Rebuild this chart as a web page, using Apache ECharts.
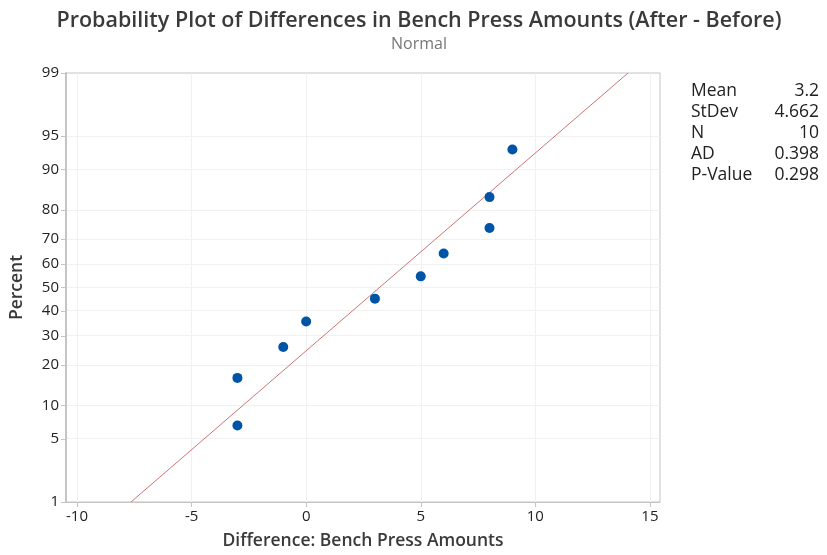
<!DOCTYPE html>
<html><head><meta charset="utf-8">
<script src="https://cdn.jsdelivr.net/npm/echarts@6/dist/echarts.min.js"></script>
<style>html,body{margin:0;padding:0;background:#fff}#c{width:827px;height:555px}</style>
</head><body><div id="c"></div>
<script>
// Data
const diffs = [-3, -3, -1, 0, 3, 5, 6, 8, 8, 9];
const percents = [6.73, 16.35, 25.96, 35.58, 45.19, 54.81, 64.42, 74.04, 83.65, 93.27];
const yTickPercents = [1, 5, 10, 20, 30, 40, 50, 60, 70, 80, 90, 95, 99];
const xTicks = [-10, -5, 0, 5, 10, 15];
const statLabels = ['Mean', 'StDev', 'N', 'AD', 'P-Value'];
const statValues = ['3.2', '4.662', '10', '0.398', '0.298'];
const fitMean = 3.2, fitSd = 4.662;

// inverse normal CDF (axis transform)
function probit(p) {
  const a=[-3.969683028665376e+01,2.209460984245205e+02,-2.759285104469687e+02,1.383577518672690e+02,-3.066479806614716e+01,2.506628277459239e+00];
  const b=[-5.447609879822406e+01,1.615858368580409e+02,-1.556989798598866e+02,6.680131188771972e+01,-1.328068155288572e+01];
  const c=[-7.784894002430293e-03,-3.223964580411365e-01,-2.400758277161838e+00,-2.549671254117276e+00,4.374664141464968e+00,2.938163982698783e+00];
  const d=[7.784695709041462e-03,3.224671290700398e-01,2.445134137142996e+00,3.754408661907416e+00];
  const pl=0.02425, ph=1-pl; let q,r;
  if (p<pl){q=Math.sqrt(-2*Math.log(p));return (((((c[0]*q+c[1])*q+c[2])*q+c[3])*q+c[4])*q+c[5])/((((d[0]*q+d[1])*q+d[2])*q+d[3])*q+1);}
  if (p<=ph){q=p-0.5;r=q*q;return (((((a[0]*r+a[1])*r+a[2])*r+a[3])*r+a[4])*r+a[5])*q/(((((b[0]*r+b[1])*r+b[2])*r+b[3])*r+b[4])*r+1);}
  q=Math.sqrt(-2*Math.log(1-p));return -(((((c[0]*q+c[1])*q+c[2])*q+c[3])*q+c[4])*q+c[5])/((((d[0]*q+d[1])*q+d[2])*q+d[3])*q+1);
}
const zOf = pc => probit(pc/100);
const yMin = zOf(1), yMax = zOf(99);
const xMin = -10.48, xMax = 15.44;
const yTickZ = yTickPercents.map(zOf);
const labelMap = {};
yTickPercents.forEach((p,i)=>{ labelMap[yTickZ[i].toFixed(6)] = String(p); });

const pts = diffs.map((x,i)=>[x, zOf(percents[i])]);
const fitLine = [[fitMean + fitSd*yMin, yMin],[fitMean + fitSd*yMax, yMax]];

const font = '"Open Sans", "Noto Sans", sans-serif';
const gridLines = [];
xTicks.forEach(v=>gridLines.push({xAxis:v}));
yTickZ.forEach(v=>gridLines.push({yAxis:v}));

const chart = echarts.init(document.getElementById('c'), null, {renderer:'canvas'});
chart.setOption({
  animation:false,
  title:[
    {text:'Probability Plot of Differences in Bench Press Amounts (After - Before)', left:414, textAlign:'center', top:5,
     textStyle:{fontFamily:font, fontSize:21.5, fontWeight:600, color:'#3a3a3a'}},
    {text:'Normal', left:414, textAlign:'center', top:31, textStyle:{fontFamily:font, fontSize:16, fontWeight:'normal', color:'#777'}}
  ],
  grid:{left:65, right:167, top:73, bottom:50, show:true, borderColor:'#c4c4c4', borderWidth:1},
  xAxis:{type:'value', min:xMin, max:xMax,
    name:'Difference: Bench Press Amounts', nameLocation:'middle', nameGap:30,
    nameTextStyle:{fontFamily:font, fontSize:17.5, color:'#3a3a3a', fontWeight:600},
    axisLine:{show:true, onZero:false, lineStyle:{color:'#c4c4c4', width:1}},
    axisTick:{show:true, customValues:xTicks, length:5, lineStyle:{color:'#c4c4c4'}},
    axisLabel:{customValues:xTicks, fontFamily:font, fontSize:15, fontWeight:500, color:'#222', margin:7},
    splitLine:{show:false}},
  yAxis:{type:'value', min:yMin, max:yMax,
    name:'Percent', nameLocation:'middle', nameGap:40,
    nameTextStyle:{fontFamily:font, fontSize:17.5, color:'#3a3a3a', fontWeight:600},
    axisLine:{show:true, onZero:false, lineStyle:{color:'#c4c4c4', width:2}},
    axisTick:{show:true, customValues:yTickZ, length:5, lineStyle:{color:'#c4c4c4'}},
    axisLabel:{customValues:yTickZ, fontFamily:font, fontSize:15, fontWeight:500, color:'#222', margin:7,
      formatter:v=>labelMap[Number(v).toFixed(6)] ?? ''},
    splitLine:{show:false}},
  series:[
    {type:'line', data:[], silent:true, z:0,
     markLine:{silent:true, symbol:['none','none'], label:{show:false}, z:0,
       lineStyle:{color:'#f1f1f1', width:1, type:'solid'}, animation:false, data:gridLines}},
    {type:'line', data:fitLine, symbol:'none', lineStyle:{color:'#cc7474', width:1}, silent:true, z:3},
    {type:'scatter', data:pts, symbol:'circle', symbolSize:10, itemStyle:{color:'#0054a6', opacity:1}, z:10}
  ],
  graphic: statLabels.flatMap((l,i)=>[
    {type:'text', left:691, top:82+i*21, style:{text:l, font:'500 17.5px '+font, fill:'#222'}},
    {type:'text', right:8, top:82+i*21, style:{text:statValues[i], font:'500 17.5px '+font, fill:'#222', textAlign:'right'}}
  ])
});
</script></body></html>
